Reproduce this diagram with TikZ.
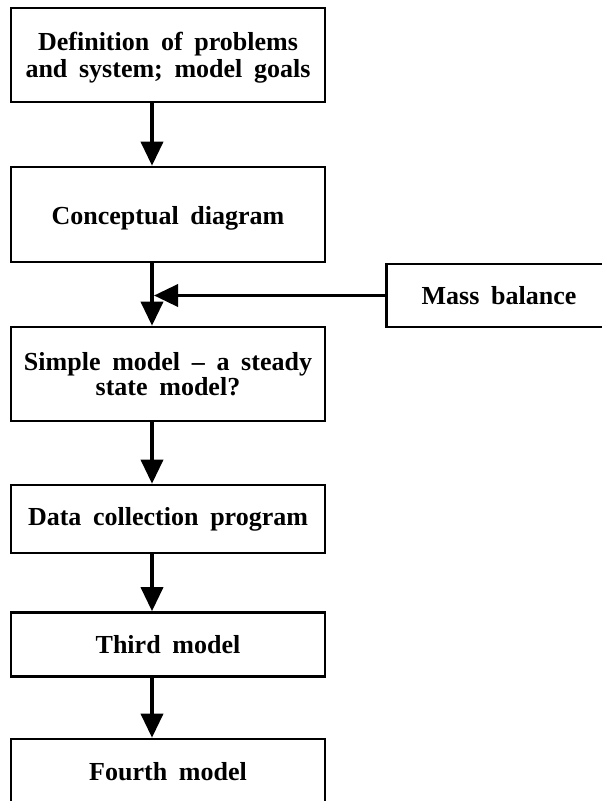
\documentclass[tikz,border=0pt]{standalone}
\usepackage{fontspec}
\setmainfont{Liberation Serif}[WordSpace=1.8]
\usetikzlibrary{arrows.meta}
\tikzset{
  flowbox/.style={draw, line width=2.6pt, minimum width=314pt, align=center,
    inner sep=0pt, font=\bfseries\fontsize{26}{27}\selectfont},
  flowarrow/.style={line width=3.6pt, -{Triangle[width=22pt,length=24pt]}},
}
% set a label a little lower than the centre of its box
\newcommand{\lowered}[1]{\raisebox{-4pt}[\height][\depth]{#1}}
\begin{document}
\begin{tikzpicture}[x=1pt,y=-1pt]
  \fill[white] (0,0) rectangle (602,801);
  \useasboundingbox (0,0) rectangle (602,801);
  \clip (0,0) rectangle (602,801);

  % main chain of boxes
  \node[flowbox, minimum height=94pt] (goals) at (168,55)
    {\lowered{\begin{tabular}{@{}c@{}}Definition of problems\\and system; model goals\end{tabular}}};
  \node[flowbox, minimum height=95pt] (concept) at (168,214.5)
    {\lowered{Conceptual diagram}};
  \node[flowbox, minimum height=94pt,
        font=\bfseries\fontsize{26}{25}\selectfont] (simple) at (168,374)
    {Simple model \textendash{} a steady\\state model?};
  \node[flowbox, minimum height=68pt] (data) at (168,519) {Data collection program};
  \node[flowbox, minimum height=64pt] (third) at (168,644.5) {Third model};
  \node[flowbox, minimum height=66pt] (fourth) at (168,772) {Fourth model};

  % side input
  \node[flowbox, minimum width=225pt, minimum height=63pt] (mass) at (499,295.5)
    {Mass balance};

  % the arrows run left of the box centres
  \coordinate (ax) at (152,0);
  \draw[flowarrow] (goals.south -| ax) -- (concept.north -| ax);
  \draw[flowarrow] (concept.south -| ax) -- (simple.north -| ax);
  \draw[flowarrow, shorten >=2pt] (mass.west) -- (mass.west -| ax);
  \draw[flowarrow] (simple.south -| ax) -- (data.north -| ax);
  \draw[flowarrow] (data.south -| ax) -- (third.north -| ax);
  \draw[flowarrow] (third.south -| ax) -- (fourth.north -| ax);
\end{tikzpicture}
\end{document}
